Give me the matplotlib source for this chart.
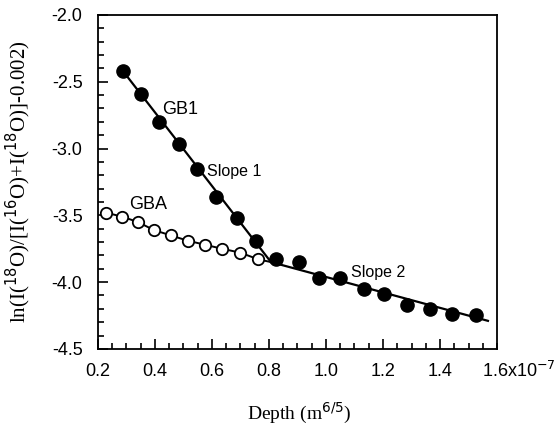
import numpy as np
import matplotlib
matplotlib.use('Agg')
import matplotlib.pyplot as plt
from matplotlib.ticker import MultipleLocator
import matplotlib.transforms as mtransforms

# GB1 (filled) and GBA (open) profiles, depth in units of 1e-7 m^(6/5)
gb1_depth = [0.288, 0.350, 0.414, 0.484, 0.548, 0.616, 0.687, 0.753,
             0.826, 0.905, 0.975, 1.048, 1.133, 1.204, 1.283, 1.365,
             1.441, 1.525]
gb1_val = [-2.42, -2.59, -2.80, -2.97, -3.15, -3.36, -3.52, -3.69,
           -3.83, -3.85, -3.97, -3.97, -4.05, -4.09, -4.17, -4.20,
           -4.24, -4.25]

gba_depth = [0.228, 0.285, 0.340, 0.396, 0.455, 0.515, 0.575, 0.635,
             0.700, 0.763]
gba_val = [-3.48, -3.51, -3.55, -3.61, -3.65, -3.69, -3.72, -3.75,
           -3.78, -3.83]

# fitted segments
slope1_x = [0.288, 0.807]
slope1_y = [-2.42, -3.85]
slope2_x = [0.807, 1.568]
slope2_y = [-3.85, -4.29]

sans = 'Liberation Sans'
serif = 'Liberation Serif'

fig = plt.figure(figsize=(5.56, 4.26), dpi=100)
ax = fig.add_axes([0.176, 0.181, 0.718, 0.784])

ax.plot(slope1_x, slope1_y, color='black', lw=1.6, zorder=2)
ax.plot(slope2_x, slope2_y, color='black', lw=1.6, zorder=2)
ax.plot(gba_depth + [slope2_x[0]], gba_val + [slope2_y[0]],
        color='black', lw=1.4, zorder=2)

ax.plot(gb1_depth, gb1_val, 'o', ms=9.5, mfc='black', mec='black', zorder=3)
ax.plot(gba_depth, gba_val, 'o', ms=8.2, mfc='white', mec='black',
        mew=1.3, zorder=3)

ax.text(0.425, -2.71, 'GB1', fontsize=13, family=sans, va='center')
ax.text(0.582, -3.175, 'Slope 1', fontsize=11.5, family=sans, va='center')
ax.text(0.309, -3.42, 'GBA', fontsize=13, family=sans, va='center')
ax.text(1.088, -3.93, 'Slope 2', fontsize=11.5, family=sans, va='center')

ax.set_xlim(0.2, 1.6)
ax.set_ylim(-4.5, -2.0)
ax.set_xticks([0.2, 0.4, 0.6, 0.8, 1.0, 1.2, 1.4])
ax.set_xticklabels(['0.2', '0.4', '0.6', '0.8', '1.0', '1.2', '1.4'])
ax.set_yticks([-4.5, -4.0, -3.5, -3.0, -2.5, -2.0])
ax.set_yticklabels(['-4.5', '-4.0', '-3.5', '-3.0', '-2.5', '-2.0'])
ax.xaxis.set_minor_locator(MultipleLocator(0.05))
ax.yaxis.set_minor_locator(MultipleLocator(0.1))
ax.tick_params(which='both', direction='in', top=False, right=False,
               labelsize=13, width=1.2)
ax.tick_params(which='major', length=7)
ax.tick_params(axis='x', which='major', pad=10)
ax.tick_params(axis='y', which='major', pad=11)
ax.tick_params(which='minor', length=4)
for lab in ax.get_xticklabels() + ax.get_yticklabels():
    lab.set_family(sans)
for s in ax.spines.values():
    s.set_linewidth(1.3)

# scale factor sits next to the last tick position
trans = mtransforms.blended_transform_factory(ax.transData, ax.transAxes)
ax.text(1.547, -0.035, '1.6x10$^{-7}$', transform=trans, ha='left',
        va='top', fontsize=13, family=sans)

ax.set_xlabel('Depth (m$^{6/5}$)', family=serif, fontsize=14)
ax.xaxis.set_label_coords(0.505, -0.155)
ax.set_ylabel('ln(I($^{18}$O)/[I($^{16}$O)+I($^{18}$O)]-0.002)',
              family=serif, fontsize=15, va='center')
ax.yaxis.set_label_coords(-0.2, 0.5)

fig.savefig('out.png', dpi=100)
